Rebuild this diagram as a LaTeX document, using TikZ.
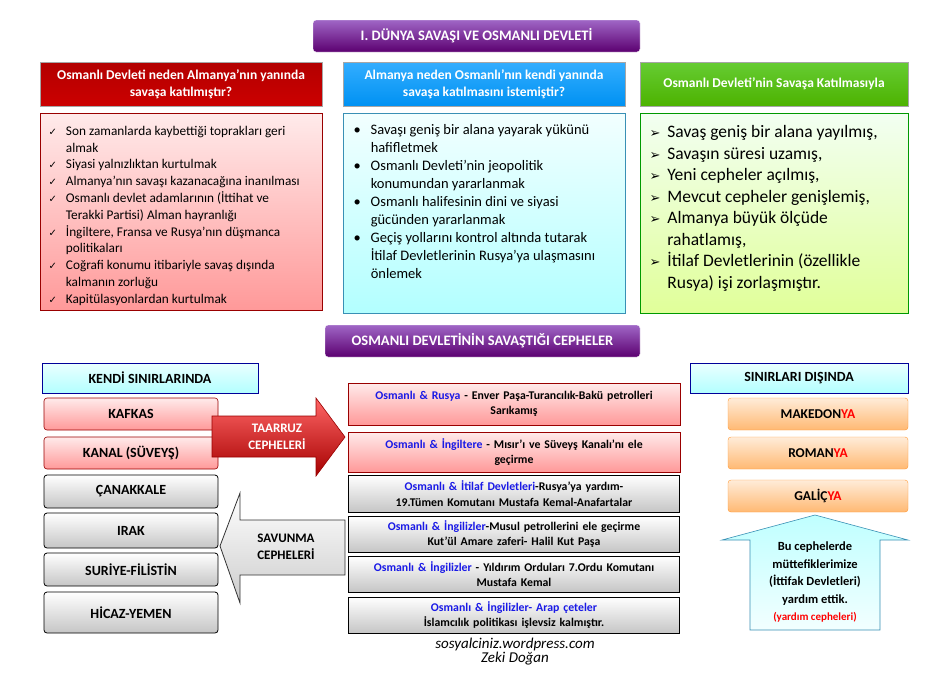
\documentclass[tikz,border=0pt]{standalone}
\usepackage{fontspec}
\setmainfont{Carlito}
\newfontfamily\symf{DejaVu Sans}
\usetikzlibrary{shapes.arrows}
\definecolor{ob}{HTML}{1A1AE6}
\newcommand{\ck}{{\symf\fontsize{10}{12}\selectfont ✓}}
\newcommand{\ar}{{\symf\bfseries\fontsize{13}{15}\selectfont ➢}}
\begin{document}
\begin{tikzpicture}[x=1pt,y=-1pt,
 title/.style={rounded corners=3pt,draw=white,top color=purple!50!blue!60,bottom color=purple!60!blue!80!black,text=white,font=\bfseries\fontsize{14.5}{17}\selectfont,align=center},
 hdr/.style={text=white,font=\bfseries\fontsize{13.5}{17}\selectfont,align=center,draw=gray!70},
 pinkb/.style={draw=red!60!black,top color=red!8,bottom color=red!40,line width=0.6pt},
 grayb/.style={draw=black,top color=white,bottom color=gray!45,line width=0.8pt},
 lab/.style={font=\bfseries\fontsize{14}{17}\selectfont,align=center},
 mid/.style={font=\bfseries\fontsize{11.8}{15.5}\selectfont,align=center,text width=325pt},
 orb/.style={rounded corners=3pt,draw=orange!80,top color=orange!15,bottom color=orange!55,font=\bfseries\fontsize{13.5}{16}\selectfont},
 lst/.style={align=left,anchor=north west}]
\useasboundingbox (0,0) rectangle (951,678);
\fill[white] (0,0) rectangle (951,678);
% title
\node[title,minimum width=327pt,minimum height=32pt] (t1) at (476.5,36) {I. DÜNYA SAVAŞI VE OSMANLI DEVLETİ};
% headers
\node[hdr,top color=red!70!black,bottom color=red!80!black,minimum width=282pt,minimum height=44pt] (h1) at (181,84) {Osmanlı Devleti neden Almanya’nın yanında\\savaşa katılmıştır?};
\node[hdr,top color=cyan!60!blue!80,bottom color=cyan!60!blue!95!black,minimum width=282pt,minimum height=44pt] (h2) at (484,84) {Almanya neden Osmanlı’nın kendi yanında\\savaşa katılmasını istemiştir?};
\node[hdr,top color=green!50!olive!80,bottom color=green!40!olive,minimum width=268pt,minimum height=44pt] (h3) at (774,84) {Osmanlı Devleti’nin Savaşa Katılmasıyla};
% content boxes
\node[pinkb,minimum width=282pt,minimum height=197pt] (c1) at (181,211.5) {};
\node[draw=cyan!70!black,top color=cyan!5,bottom color=cyan!30,minimum width=282pt,minimum height=200pt] (c2) at (484,213) {};
\node[draw=green!60!black,top color=green!5,bottom color=green!30!yellow!40,minimum width=268pt,minimum height=200pt] (c3) at (774,213) {};
\node[lst,font=\fontsize{13.3}{16.8}\selectfont] (l1) at (45,120) {%
\begin{tabular}{@{}l@{\hspace{9pt}}l@{}}
\ck & Son zamanlarda kaybettiği toprakları geri\\ & almak\\
\ck & Siyasi yalnızlıktan kurtulmak\\
\ck & Almanya'nın savaşı kazanacağına inanılması\\
\ck & Osmanlı devlet adamlarının (İttihat ve\\ & Terakki Partisi) Alman hayranlığı\\
\ck & İngiltere, Fransa ve Rusya’nın düşmanca\\ & politikaları\\
\ck & Coğrafi konumu itibariyle savaş dışında\\ & kalmanın zorluğu\\
\ck & Kapitülasyonlardan kurtulmak
\end{tabular}};
\node[lst,font=\fontsize{14.5}{18}\selectfont] (l2) at (350,118) {%
\begin{tabular}{@{}l@{\hspace{10pt}}l@{}}
• & Savaşı geniş bir alana yayarak yükünü\\ & hafifletmek\\
• & Osmanlı Devleti’nin jeopolitik\\ & konumundan yararlanmak\\
• & Osmanlı halifesinin dini ve siyasi\\ & gücünden yararlanmak\\
• & Geçiş yollarını kontrol altında tutarak\\ & İtilaf Devletlerinin Rusya’ya ulaşmasını\\ & önlemek
\end{tabular}};
\node[lst,font=\fontsize{17.5}{21.5}\selectfont] (l3) at (646,119) {%
\begin{tabular}{@{}l@{\hspace{7pt}}l@{}}
\ar & Savaş geniş bir alana yayılmış,\\
\ar & Savaşın süresi uzamış,\\
\ar & Yeni cepheler açılmış,\\
\ar & Mevcut cepheler genişlemiş,\\
\ar & Almanya büyük ölçüde\\ & rahatlamış,\\
\ar & İtilaf Devletlerinin (özellikle\\ & Rusya) işi zorlaşmıştır.
\end{tabular}};
% second title
\node[title,minimum width=315pt,minimum height=32pt] (t2) at (482.5,341) {OSMANLI DEVLETİNİN SAVAŞTIĞI CEPHELER};
% left column
\node[lab,draw=blue!60!black,top color=cyan!8,bottom color=cyan!30,minimum width=216pt,minimum height=30pt] (kendi) at (150,378) {KENDİ SINIRLARINDA};
\node[lab,pinkb,rounded corners=3pt,minimum width=174pt,minimum height=32pt] (kafkas) at (131,414) {KAFKAS};
\node[lab,pinkb,rounded corners=3pt,minimum width=174pt,minimum height=32pt] (kanal) at (131,453) {KANAL (SÜVEYŞ)};
\node[lab,grayb,rounded corners=3pt,minimum width=174pt,minimum height=33pt] (can) at (131,491.5) {ÇANAKKALE};
\node[lab,grayb,rounded corners=3pt,minimum width=174pt,minimum height=35pt] (irak) at (131,530.5) {IRAK};
\node[lab,grayb,rounded corners=3pt,minimum width=174pt,minimum height=33pt] (sur) at (131,569.5) {SURİYE-FİLİSTİN};
\node[lab,grayb,rounded corners=3pt,minimum width=174pt,minimum height=41pt] (hic) at (131,612.5) {HİCAZ-YEMEN};
% arrows
\draw[draw=red!60!black,top color=red!60,bottom color=red!65!black,line width=0.6pt] (212,416)--(316,416)--(316,398)--(345,437)--(316,476)--(316,457)--(212,457)--cycle;
\node[font=\bfseries\fontsize{13}{17}\selectfont,text=white,align=center] (taar) at (277,437) {TAARRUZ\\CEPHELERİ};
\draw[draw=black!80,top color=white,bottom color=gray!40,line width=0.8pt] (345,520)--(240,520)--(240,493)--(220,546)--(240,603)--(240,575)--(345,575)--cycle;
\node[font=\bfseries\fontsize{13}{17}\selectfont,align=center] (sav) at (286,547) {SAVUNMA\\CEPHELERİ};
% middle
\node[mid,pinkb,minimum width=328pt,minimum height=42pt] (m1) at (514,404) {\textcolor{ob}{Osmanlı \& Rusya} - Enver Paşa-Turancılık-Bakü petrolleri\\Sarıkamış};
\node[mid,pinkb,minimum width=328pt,minimum height=40pt] (m2) at (514,452) {\textcolor{ob}{Osmanlı \& İngiltere} - Mısır’ı ve Süveyş Kanalı’nı ele\\geçirme};
\node[mid,grayb,minimum width=328pt,minimum height=37pt] (m3) at (514,493.5) {\textcolor{ob}{Osmanlı \& İtilaf Devletleri}-Rusya’ya yardım-\\19.Tümen Komutanı Mustafa Kemal-Anafartalar};
\node[mid,grayb,minimum width=328pt,minimum height=36pt] (m4) at (514,534) {\textcolor{ob}{Osmanlı \& İngilizler}-Musul petrollerini ele geçirme\\Kut’ül Amare zaferi- Halil Kut Paşa};
\node[mid,grayb,minimum width=328pt,minimum height=36pt] (m5) at (514,574) {\textcolor{ob}{Osmanlı \& İngilizler} - Yıldırım Orduları 7.Ordu Komutanı\\Mustafa Kemal};
\node[mid,grayb,minimum width=328pt,minimum height=36pt] (m6) at (514,615) {\textcolor{ob}{Osmanlı \& İngilizler- Arap çeteler}\\İslamcılık politikası işlevsiz kalmıştır.};
% right column
\node[lab,draw=blue!60!black,top color=cyan!8,bottom color=cyan!30,minimum width=218pt,minimum height=30pt] (dis) at (799,378) {SINIRLARI DIŞINDA};
\node[orb,minimum width=180pt,minimum height=32pt] (mak) at (818,414) {MAKEDON\textcolor{red}{YA}};
\node[orb,minimum width=180pt,minimum height=32pt] (rom) at (818,453) {ROMAN\textcolor{red}{YA}};
\node[orb,minimum width=180pt,minimum height=32pt] (gal) at (818,496) {GALİÇ\textcolor{red}{YA}};
\draw[draw=cyan!70!black,top color=cyan!25,bottom color=cyan!5,line width=0.6pt] (815,515)--(908,540)--(880,540)--(880,630)--(750,630)--(750,540)--(722,540)--cycle;
\node[font=\bfseries\fontsize{12.5}{17.5}\selectfont,align=center] (yard) at (815,582) {Bu cephelerde\\müttefiklerimize\\(İttifak Devletleri)\\yardım ettik.\\\textcolor{red}{\fontsize{11}{14}\selectfont(yardım cepheleri)}};
% footer
\node[font=\itshape\fontsize{15}{14}\selectfont,align=center] (foot) at (515,652) {sosyalciniz.wordpress.com\\Zeki Doğan};
\end{tikzpicture}
\end{document}
